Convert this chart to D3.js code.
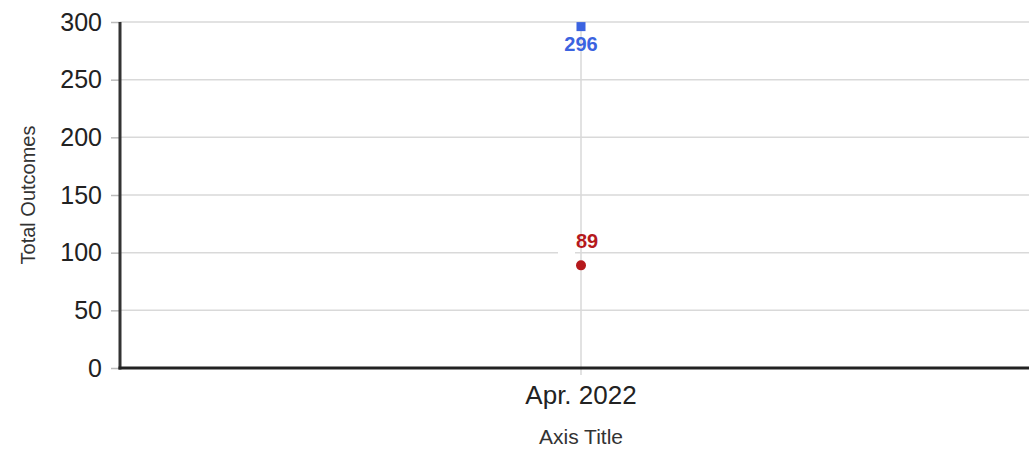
<!DOCTYPE html>
<html>
<head>
<meta charset="utf-8">
<script src="https://cdn.jsdelivr.net/npm/d3@7"></script>
<style>
  body { margin: 0; background: #fff; }
  text { font-family: "Liberation Sans", Arial, sans-serif; }
</style>
</head>
<body>
<div id="chart"></div>
<script>
// data
var categories = ["Apr. 2022"];
var seriesBlue = [296];
var seriesRed = [89];
var yTicks = [0, 50, 100, 150, 200, 250, 300];

var width = 1029, height = 450;
var margin = {top: 22, right: -13, bottom: 82, left: 120};

var svg = d3.select("#chart").append("svg")
  .attr("width", width)
  .attr("height", height);

var x = d3.scaleBand().domain(categories)
  .range([margin.left, width - margin.right]);
var y = d3.scaleLinear().domain([0, 300])
  .range([height - margin.bottom, margin.top]);

// horizontal gridlines
svg.selectAll(".hgrid")
  .data(yTicks.slice(1))
  .enter().append("line")
    .attr("class", "hgrid")
    .attr("x1", margin.left).attr("x2", width)
    .attr("y1", function(d) { return y(d); })
    .attr("y2", function(d) { return y(d); })
    .style("stroke", "#d9d9d9")
    .style("stroke-width", 1.5);

// vertical gridline at category
svg.selectAll(".vgrid")
  .data(categories)
  .enter().append("line")
    .attr("class", "vgrid")
    .attr("x1", function(d) { return x(d) + x.bandwidth() / 2; })
    .attr("x2", function(d) { return x(d) + x.bandwidth() / 2; })
    .attr("y1", y(300)).attr("y2", y(0) + 7)
    .style("stroke", "#d9d9d9")
    .style("stroke-width", 1.5);

// y axis
var yAxis = svg.append("g")
  .attr("transform", "translate(" + margin.left + ",0)")
  .call(d3.axisLeft(y).tickValues(yTicks).tickSize(9).tickPadding(9));
yAxis.select(".domain").remove();
yAxis.selectAll(".tick line").style("stroke", "#bbb").style("stroke-width", 1.5);
yAxis.selectAll(".tick text")
  .style("font-size", "25px")
  .style("fill", "#222");

svg.append("line")
  .attr("x1", margin.left).attr("x2", margin.left)
  .attr("y1", y(300)).attr("y2", y(0) + 1.5)
  .style("stroke", "#333").style("stroke-width", 3);

// x axis
var xAxis = svg.append("g")
  .attr("transform", "translate(0," + y(0) + ")")
  .call(d3.axisBottom(x).tickSize(0).tickPadding(18));
xAxis.select(".domain").remove();
xAxis.selectAll(".tick text")
  .style("font-size", "26px")
  .style("fill", "#222");

svg.append("line")
  .attr("x1", margin.left - 1.5).attr("x2", width)
  .attr("y1", y(0)).attr("y2", y(0))
  .style("stroke", "#222").style("stroke-width", 3);

// axis titles
svg.append("text")
  .attr("transform", "translate(35," + ((y(0) + y(300)) / 2) + ") rotate(-90)")
  .style("text-anchor", "middle")
  .style("font-size", "20px")
  .style("fill", "#333")
  .text("Total Outcomes");

svg.append("text")
  .attr("x", x(categories[0]) + x.bandwidth() / 2)
  .attr("y", 444)
  .style("text-anchor", "middle")
  .style("font-size", "21px")
  .style("fill", "#333")
  .text("Axis Title");

var cx = function(i) { return x(categories[i]) + x.bandwidth() / 2; };

// blue series: squares
svg.selectAll(".blueMark")
  .data(seriesBlue)
  .enter().append("rect")
    .attr("class", "blueMark")
    .attr("x", function(d, i) { return cx(i) - 4.5; })
    .attr("y", function(d) { return y(d) - 4.5; })
    .attr("width", 9).attr("height", 9)
    .style("fill", "#3b63e0");

svg.selectAll(".blueLabel")
  .data(seriesBlue)
  .enter().append("text")
    .attr("class", "blueLabel")
    .attr("x", function(d, i) { return cx(i); })
    .attr("y", function(d) { return y(d) + 24; })
    .style("text-anchor", "middle")
    .style("font-size", "20px")
    .style("font-weight", 700)
    .style("fill", "#3b63e0")
    .text(function(d) { return d; });

// red series: circles
svg.selectAll(".redLabelBg")
  .data(seriesRed)
  .enter().append("rect")
    .attr("class", "redLabelBg")
    .attr("x", function(d, i) { return cx(i) - 23; })
    .attr("y", function(d) { return y(d) - 14; })
    .attr("width", 17).attr("height", 3)
    .style("fill", "#fff");

svg.selectAll(".redMark")
  .data(seriesRed)
  .enter().append("circle")
    .attr("class", "redMark")
    .attr("cx", function(d, i) { return cx(i); })
    .attr("cy", function(d) { return y(d); })
    .attr("r", 5)
    .style("fill", "#b5191c");

svg.selectAll(".redLabel")
  .data(seriesRed)
  .enter().append("text")
    .attr("class", "redLabel")
    .attr("x", function(d, i) { return cx(i) + 6; })
    .attr("y", function(d) { return y(d) - 17; })
    .style("text-anchor", "middle")
    .style("font-size", "20px")
    .style("font-weight", 700)
    .style("fill", "#b5191c")
    .text(function(d) { return d; });
</script>
</body>
</html>
